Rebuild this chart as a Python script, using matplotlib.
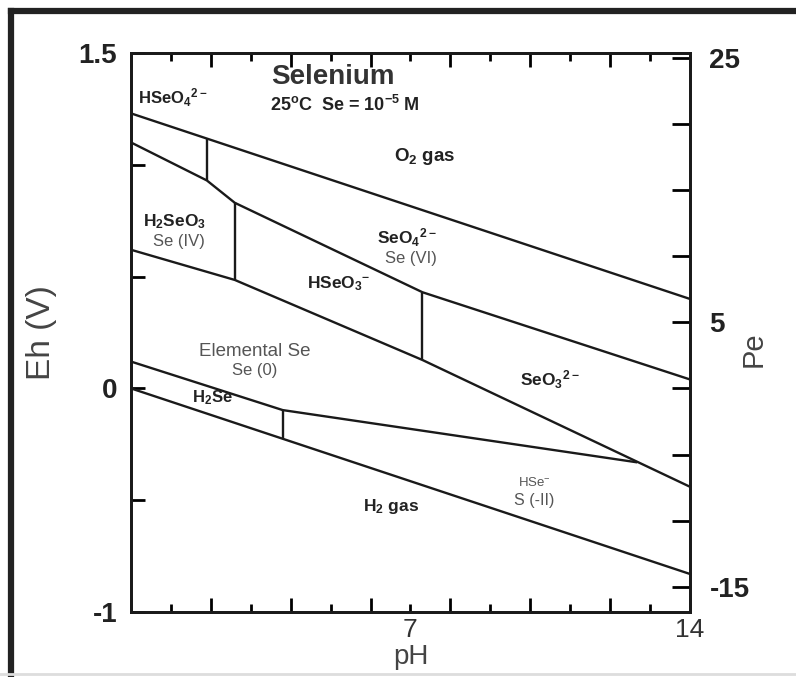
import matplotlib
matplotlib.use('Agg')
import matplotlib.pyplot as plt
from matplotlib.lines import Line2D

plt.rcParams['font.family'] = ['Liberation Sans', 'DejaVu Sans']
plt.rcParams['mathtext.default'] = 'regular'

# ---- data ----
ph_o2 = [0, 14]
eh_o2 = [1.23, 0.40]
ph_h2 = [0, 14]
eh_h2 = [0.0, -0.83]
ph_se6 = [0, 1.9, 2.6, 7.3, 14]
eh_se6 = [1.10, 0.93, 0.83, 0.43, 0.04]
ph_se4 = [0, 2.6, 7.3, 14]
eh_se4 = [0.62, 0.485, 0.127, -0.44]
ph_se0 = [0, 3.8, 12.65]
eh_se0 = [0.12, -0.097, -0.33]
ph_vert = [1.9, 2.6, 7.3, 3.8]
eh_vert_lo = [0.93, 0.485, 0.127, -0.225]
eh_vert_hi = [1.117, 0.834, 0.427, -0.097]

eh_ticks = [-1.0, -0.5, 0.0, 0.5, 1.0, 1.5]
eh_ticklabels = ['-1', '', '0', '', '', '1.5']
pe_ticks = [-15, -10, -5, 0, 5, 10, 15, 20, 25]
pe_ticklabels = ['-15', '', '', '', '5', '', '', '', '25']
ph_ticks = list(range(0, 15))
ph_ticklabels = ['' if p not in (7, 14) else str(p) for p in ph_ticks]

labels_bold = [
    ("HSeO$_4$$^{2-}$", 1.05, 1.30, 12),
    ("O$_2$ gas", 7.35, 1.035, 13.5),
    ("H$_2$SeO$_3$", 1.1, 0.745, 12.5),
    ("SeO$_4$$^{2-}$", 6.9, 0.675, 12.5),
    ("HSeO$_3$$^{-}$", 5.2, 0.467, 12.5),
    ("SeO$_3$$^{2-}$", 10.5, 0.038, 12.5),
    ("H$_2$Se", 2.05, -0.043, 12),
    ("H$_2$ gas", 6.5, -0.53, 12.5),
]
labels_gray = [
    ("Se (IV)", 1.2, 0.655, 12),
    ("Se (VI)", 7.0, 0.583, 12),
    ("Elemental Se", 3.1, 0.163, 13.5),
    ("Se (0)", 3.1, 0.082, 12),
    ("HSe$^{-}$", 10.1, -0.42, 9.5),
    ("S (-II)", 10.1, -0.50, 11.5),
]

fig = plt.figure(figsize=(7.96, 6.77), dpi=100)
ax = fig.add_axes([131/796, 1-612/677, 559/796, 559/677])
lw = 1.7
col = '#1a1a1a'
ax.plot(ph_o2, eh_o2, color=col, lw=lw)
ax.plot(ph_h2, eh_h2, color=col, lw=lw)
ax.plot(ph_se6, eh_se6, color=col, lw=lw)
ax.plot(ph_se4, eh_se4, color=col, lw=lw)
ax.plot(ph_se0, eh_se0, color=col, lw=lw)
ax.vlines(ph_vert, eh_vert_lo, eh_vert_hi, color=col, lw=lw)

ax.set_xlim(0, 14)
ax.set_ylim(-1, 1.5)
for s in ax.spines.values():
    s.set_linewidth(2.0)
    s.set_color(col)

ax.set_xticks(ph_ticks)
ax.set_xticklabels(ph_ticklabels, fontsize=19, color='#333333')
ax.tick_params(axis='x', which='both', direction='in', top=True, length=0, width=2, pad=4)
for i, t in enumerate(ax.xaxis.get_major_ticks()):
    L = 10 if ph_ticks[i] % 2 == 0 else 6
    t.tick1line.set_markersize(L)
    t.tick2line.set_markersize(L)

ax.set_yticks(eh_ticks)
ax.set_yticklabels(eh_ticklabels, fontsize=20, fontweight='bold', color='#222222')
ax.tick_params(axis='y', direction='in', length=10, width=2, pad=10)

ax.set_xlabel('pH', fontsize=20, color='#444444', labelpad=2)
ax.set_ylabel('Eh (V)', fontsize=24, color='#444444')
ax.yaxis.set_label_coords(-0.132, 0.5)

ax2 = ax.twinx()
ax2.set_ylim(-1/0.05916, 1.5/0.05916)
ax2.set_yticks(pe_ticks)
ax2.set_yticklabels(pe_ticklabels, fontsize=20, fontweight='bold', color='#222222')
ax2.tick_params(axis='y', direction='in', length=13, width=2, pad=14)
for s in ax2.spines.values():
    s.set_linewidth(2.0)
    s.set_color(col)
ax2.set_ylabel('Pe', fontsize=21, color='#444444', rotation=90)
ax2.yaxis.set_label_coords(1.088, 0.47)

ax.text(5.05, 1.392, 'Selenium', fontsize=20, fontweight='bold', color='#333333',
        ha='center', va='center')
ax.text(5.35, 1.268, '25$^{o}$C  Se = 10$^{-5}$ M', fontsize=13, fontweight='bold',
        color='#222222', ha='center', va='center')

for txt, x, y, fs in labels_bold:
    ax.text(x, y, txt, fontsize=fs, fontweight='bold', color='#222222', ha='center', va='center')
for txt, x, y, fs in labels_gray:
    ax.text(x, y, txt, fontsize=fs, color='#555555', ha='center', va='center')

# figure frame
fig.add_artist(Line2D([11/796, 1], [1-11/677, 1-11/677], color='#222222', lw=4.5,
                      transform=fig.transFigure))
fig.add_artist(Line2D([11/796, 11/796], [0.005, 1-11/677], color='#222222', lw=4.5,
                      transform=fig.transFigure))
fig.add_artist(Line2D([0, 1], [3/677, 3/677], color='#dddddd', lw=2,
                      transform=fig.transFigure))

fig.savefig('out.png', dpi=100)
